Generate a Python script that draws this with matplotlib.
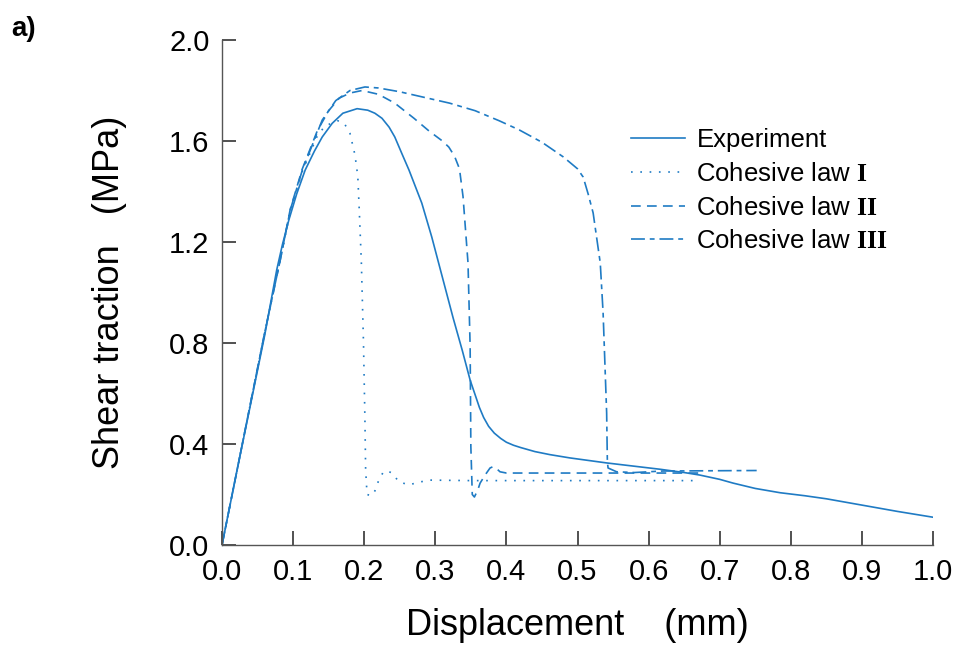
import matplotlib
matplotlib.use("Agg")
import matplotlib.pyplot as plt

plt.rcParams['font.family'] = ['Liberation Sans', 'DejaVu Sans']
plt.rcParams['mathtext.fontset'] = 'custom'
plt.rcParams['mathtext.bf'] = 'Liberation Serif:bold'
plt.rcParams['mathtext.rm'] = 'Liberation Serif'
plt.rcParams['lines.scale_dashes'] = False

blue = '#1f7bc4'

# experiment
exp_x = [0, 0.02, 0.04, 0.06, 0.077, 0.085, 0.094, 0.105, 0.117, 0.13, 0.141, 0.155,
         0.17, 0.19, 0.205, 0.215, 0.225, 0.235, 0.243, 0.253, 0.263, 0.281, 0.295,
         0.31, 0.325, 0.338, 0.349, 0.356, 0.362, 0.368, 0.375, 0.383, 0.392, 0.40,
         0.41, 0.42, 0.44, 0.461, 0.489, 0.541, 0.58, 0.616, 0.65, 0.672, 0.70, 0.719,
         0.75, 0.785, 0.82, 0.85, 0.9, 0.95, 1.0]
exp_y = [0, 0.28, 0.555, 0.83, 1.09, 1.19, 1.287, 1.39, 1.485, 1.56, 1.616, 1.67,
         1.71, 1.728, 1.722, 1.71, 1.69, 1.655, 1.616, 1.55, 1.485, 1.354, 1.22,
         1.06, 0.9, 0.77, 0.653, 0.595, 0.545, 0.505, 0.47, 0.443, 0.422, 0.407,
         0.395, 0.386, 0.37, 0.358, 0.345, 0.325, 0.312, 0.30, 0.287, 0.277, 0.26, 0.245,
         0.224, 0.207, 0.195, 0.183, 0.158, 0.133, 0.11]

# cohesive law I
c1_x = [0, 0.02, 0.04, 0.06, 0.082, 0.096, 0.113, 0.134, 0.145, 0.163, 0.172, 0.18,
        0.187, 0.191, 0.193, 0.196, 0.199, 0.201, 0.202, 0.204, 0.21, 0.215, 0.22,
        0.227, 0.233, 0.239, 0.249, 0.263, 0.277, 0.293, 0.35, 0.665]
c1_y = [0, 0.28, 0.56, 0.84, 1.13, 1.32, 1.48, 1.62, 1.66, 1.68, 1.67, 1.63,
        1.545, 1.46, 1.33, 1.12, 0.8, 0.5, 0.3, 0.2, 0.195, 0.214, 0.253,
        0.29, 0.293, 0.285, 0.25, 0.238, 0.249, 0.257, 0.255, 0.255]

# cohesive law II
c2_x = [0, 0.02, 0.04, 0.06, 0.082, 0.096, 0.113, 0.134, 0.15, 0.165, 0.18, 0.197,
        0.22, 0.243, 0.27, 0.291, 0.31, 0.319, 0.327, 0.334, 0.339, 0.346, 0.349,
        0.350, 0.352, 0.355, 0.36, 0.363, 0.37, 0.377, 0.381, 0.386, 0.391, 0.40, 0.67]
c2_y = [0, 0.28, 0.56, 0.84, 1.13, 1.33, 1.49, 1.64, 1.72, 1.77, 1.79, 1.80,
        1.785, 1.75, 1.69, 1.64, 1.6, 1.576, 1.54, 1.49, 1.38, 1.117, 0.785,
        0.39, 0.2, 0.19, 0.22, 0.245, 0.277, 0.305, 0.31, 0.303, 0.29, 0.285, 0.285]

# cohesive law III
c3_x = [0, 0.02, 0.04, 0.06, 0.082, 0.096, 0.113, 0.141, 0.16, 0.18, 0.201, 0.22,
        0.25, 0.281, 0.32, 0.356, 0.39, 0.418, 0.45, 0.48, 0.50, 0.508, 0.515, 0.522,
        0.532, 0.536, 0.541, 0.542, 0.543, 0.555, 0.58, 0.60, 0.62, 0.752]
c3_y = [0, 0.28, 0.56, 0.84, 1.13, 1.327, 1.485, 1.683, 1.76, 1.80, 1.814, 1.81,
        1.795, 1.775, 1.75, 1.72, 1.68, 1.644, 1.595, 1.537, 1.49, 1.457, 1.39, 1.315,
        1.117, 0.92, 0.523, 0.33, 0.305, 0.29, 0.287, 0.29, 0.293, 0.295]

labels = ['Experiment', r'Cohesive law $\mathbf{I}$',
          r'Cohesive law $\mathbf{II}$', r'Cohesive law $\mathbf{III}$']

fig = plt.figure(figsize=(9.6, 6.59), dpi=100)
ax = fig.add_axes([222/960, 114/659, 711/960, 505/659])

lw = 1.2
ax.plot(exp_x, exp_y, color=blue, lw=lw, ls='-', label=labels[0])
ax.plot(c1_x, c1_y, color=blue, lw=lw, ls=(0, (1.2, 5.5)), label=labels[1])
ax.plot(c2_x, c2_y, color=blue, lw=lw, ls=(0, (7, 4.5)), label=labels[2])
ax.plot(c3_x, c3_y, color=blue, lw=lw, ls=(0, (10, 3.5, 3.5, 3.5)), label=labels[3])

ax.set_xlim(0, 1.0)
ax.set_ylim(0, 2.0)
ax.set_xticks([i / 10 for i in range(11)])
ax.set_yticks([0.0, 0.4, 0.8, 1.2, 1.6, 2.0])
ax.set_xticklabels(['%.1f' % (i / 10) for i in range(11)])
ax.set_yticklabels(['0.0', '0.4', '0.8', '1.2', '1.6', '2.0'])
ax.tick_params(direction='in', length=10, width=1.2, labelsize=21, pad=9,
               color='#333333')
for s in ['top', 'right']:
    ax.spines[s].set_visible(False)
for s in ['left', 'bottom']:
    ax.spines[s].set_linewidth(1.0)
    ax.spines[s].set_color('#555555')

ax.set_xlabel('Displacement    (mm)', fontsize=26, labelpad=16)
ax.set_ylabel('Shear traction   (MPa)', fontsize=26, labelpad=30)

ax.legend(loc='upper left', bbox_to_anchor=(0.557, 0.851), frameon=False,
          fontsize=18.5, handlelength=2.1, handletextpad=0.45, labelspacing=0.38,
          borderpad=0)

fig.text(0.012, 0.945, 'a)', fontsize=20, fontweight='bold')

fig.savefig('out.png', dpi=100)
